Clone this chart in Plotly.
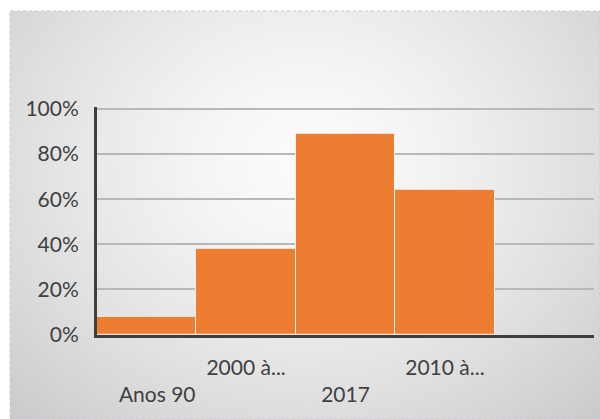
import base64
import struct
import zlib

import numpy as np
import plotly.graph_objects as go

# ---- data -------------------------------------------------------------
categories = ["Anos 90", "2000 à...", "2017", "2010 à...", ""]
values = [0.08, 0.38, 0.89, 0.64, None]
y_ticks = [0, 0.2, 0.4, 0.6, 0.8, 1.0]

W, H = 600, 419
BAR_COLOR = "#ED7D31"
TEXT_COLOR = "#404040"
FONT = "Lato"
Y_MAX = 1.01


def gray_png(arr):
    """Encode a 2-D uint8 array as a grayscale PNG data URI."""
    h, w = arr.shape
    raw = b"".join(b"\x00" + arr[r].tobytes() for r in range(h))

    def chunk(tag, data):
        c = struct.pack(">I", len(data)) + tag + data
        return c + struct.pack(">I", zlib.crc32(tag + data) & 0xFFFFFFFF)

    png = b"\x89PNG\r\n\x1a\n"
    png += chunk(b"IHDR", struct.pack(">IIBBBBB", w, h, 8, 0, 0, 0, 0))
    png += chunk(b"IDAT", zlib.compress(raw, 9))
    png += chunk(b"IEND", b"")
    return "data:image/png;base64," + base64.b64encode(png).decode()


# radial grey backdrop for the chart panel
px0, py0 = 10, 11
pw, ph = W - px0, H - py0
yy, xx = np.mgrid[0:ph, 0:pw].astype(float)
dx = (xx + px0 - 305) / 295.0
dy = (yy + py0 - 160) / 250.0
r = np.sqrt(dx ** 2 + dy ** 2)
shade = np.clip(252 - 30 * np.power(r, 1.4), 195, 252).astype(np.uint8)
backdrop = gray_png(shade)

# staggered category labels (even ones drop to a second line)
tick_text = []
for i, c in enumerate(categories):
    if i % 2 == 0 and c:
        pad = "\u2002\u2002" if i == 0 else ""
        tick_text.append("<br>" + pad + c)
    else:
        tick_text.append(c)
x_pos = list(range(len(categories)))

fig = go.Figure(
    go.Bar(
        x=x_pos,
        y=values,
        marker=dict(color=BAR_COLOR, line=dict(color="#f2f2f2", width=1)),
        hoverinfo="skip",
    )
)

fig.update_layout(
    template="none",
    width=W,
    height=H,
    margin=dict(l=0, r=0, t=0, b=0, pad=0),
    paper_bgcolor="white",
    plot_bgcolor="rgba(0,0,0,0)",
    bargap=0,
    showlegend=False,
    font=dict(family=FONT, size=21, color=TEXT_COLOR),
    images=[
        dict(
            source=backdrop,
            xref="paper",
            yref="paper",
            x=px0 / W,
            y=1 - py0 / H,
            sizex=pw / W,
            sizey=ph / H,
            sizing="stretch",
            xanchor="left",
            yanchor="top",
            layer="below",
        )
    ],
    shapes=[
        dict(
            type="rect",
            xref="paper",
            yref="paper",
            x0=px0 / W,
            y0=0,
            x1=1,
            y1=1 - py0 / H,
            line=dict(color="#c4c8d4", width=1, dash="dot"),
            layer="below",
        )
    ],
)

fig.update_xaxes(
    automargin=False,
    domain=[97 / W, 594 / W],
    range=[-0.5, len(categories) - 0.5],
    tickmode="array",
    tickvals=x_pos,
    ticktext=tick_text,
    tickangle=0,
    showgrid=False,
    showline=True,
    linecolor="#3f3f3f",
    linewidth=3,
    ticks="",
    ticklabelstandoff=12,
    zeroline=False,
)

px_per_unit = 334.5 - 109
fig.update_yaxes(
    automargin=False,
    domain=[(H - 334.5) / H, (H - (334.5 - px_per_unit * Y_MAX)) / H],
    range=[0, Y_MAX],
    tickmode="array",
    tickvals=y_ticks,
    tickformat=".0%",
    showgrid=True,
    gridcolor="#b8b8b8",
    gridwidth=1.5,
    showline=True,
    linecolor="#3f3f3f",
    linewidth=3,
    ticks="",
    ticklabelstandoff=11,
    zeroline=False,
)

fig.write_html("out.html")
